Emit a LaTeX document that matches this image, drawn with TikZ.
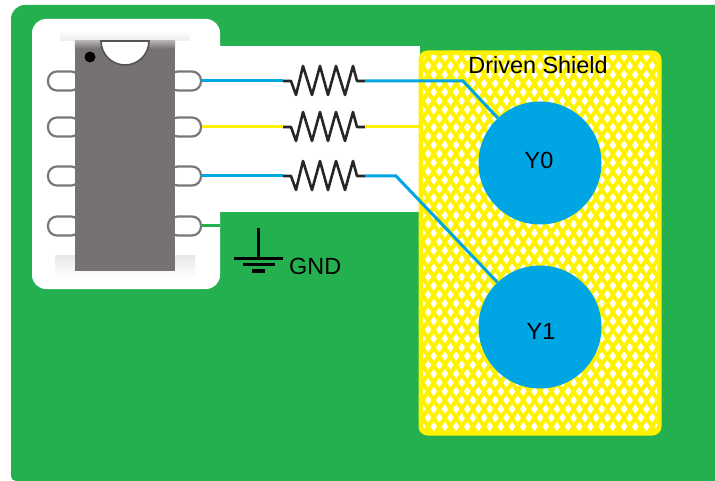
\documentclass[tikz,border=0pt]{standalone}
\usepackage{fontspec}
\setmainfont{Liberation Sans}
\definecolor{boardgreen}{HTML}{24B04F}
\definecolor{padblue}{HTML}{00A5E3}
\definecolor{shieldyellow}{HTML}{FFF200}
\definecolor{chipgrey}{HTML}{767172}
\definecolor{pingrey}{HTML}{7A7778}
\tikzset{
    pinbox/.style={draw=pingrey, line width=2.2, fill=white, rounded corners=9, minimum width=32, minimum height=19, inner sep=0},
    padnode/.style={circle, fill=padblue, minimum size=123, inner sep=0},
    shieldbox/.style={fill=shieldyellow, rounded corners=9, minimum width=243, minimum height=385, inner sep=0},
    wire/.style={line width=3, color=#1},
    zigzag/.style={line width=2.6, color=black!85, line join=round},
    gndline/.style={line width=3, color=black},
    lbl/.style={font=\fontsize{23.4}{23.4}\selectfont, inner sep=0}
}
\begin{document}
\begin{tikzpicture}[x=1pt, y=-1pt]

    \useasboundingbox (0, 0) rectangle (715, 481);
    \fill [white] (0, 0) rectangle (715, 481);
    \fill [boardgreen] (715, 5) -- (715, 481) [rounded corners=5] -- (11, 481) [rounded corners=14] -- (11, 5) [sharp corners] -- cycle;
    \fill [white, rounded corners=14] (32, 19) rectangle (220, 289);
    \fill [white] (215, 46) rectangle (420, 212);

    \shade [top color=white, bottom color=black!7] (60, 31) rectangle (190, 41);
    \shade [top color=black!9, bottom color=white] (55, 256) rectangle (195, 278);

    \foreach \n/\y in {1/81, 2/127, 3/176, 4/226} {
        \node [pinbox] (l\n) at (64, \y) {};
        \node [pinbox] (r\n) at (185, \y) {};
    }

    \node (b) [fill=chipgrey, minimum width=100, minimum height=230, inner sep=0] at (125, 156) {};
    \shade [top color=chipgrey!55!white, bottom color=chipgrey] (b.north west) rectangle ([yshift=-8]b.north east);
    \draw [pingrey!70!black, line width=1.6, fill=white] (101, 41) arc [start angle=180, end angle=360, x radius=24, y radius=-24] -- cycle;
    \fill [black] (90, 57) circle [radius=5.5];

    \node (s) [shieldbox] at (540, 243) {};
    \begin{scope}
        \clip [rounded corners=6] (423, 55) rectangle (657, 431);
        \foreach \k in {0,...,42} {
            \pgfmathsetmacro{\py}{57+8.8*\k}
            \pgfmathsetmacro{\px}{422.5+5.6*mod(\k,2)}
            \foreach \j in {0,...,21} {
                \fill [white] (\px+11.2*\j-3.2, \py) -- (\px+11.2*\j, \py-4.6) -- (\px+11.2*\j+3.2, \py) -- (\px+11.2*\j, \py+4.6) -- cycle;
            }
        }
    \end{scope}

    \node (p) [padnode] at (540, 163) {};
    \node (q) [padnode] at (540, 327) {};
    \node (m) [lbl] at (539, 160) {Y0};
    \node (o) [lbl] at (541, 331) {Y1};
    \node (t) [lbl] at (538, 65) {Driven Shield};
    \node (g) [lbl, anchor=base west] at (289, 275) {GND};

    \foreach \n/\y in {1/81, 2/127, 3/176} {
        \coordinate (a\n) at (283, \y);
        \coordinate (c\n) at (365, \y);
        \draw [zigzag] (a\n) -- ++(8, 0) -- ++(5, 14) -- ++(7, -29) -- ++(9, 29) -- ++(8, -29) -- ++(8, 29) -- ++(8, -29) -- ++(9, 29) -- ++(8, -29) -- ++(4, 15) -- (c\n);
    }

    \coordinate (d) at (463, 81);
    \coordinate (e) at (396, 176);
    \coordinate (f) at (420, 127);
    \coordinate (h) at (220, 226);

    \draw [wire=padblue] (r1.east) -- (a1);
    \draw [wire=padblue] (c1) -- (d) -- (p);
    \draw [wire=shieldyellow] (r2.east) -- (a2);
    \draw [wire=shieldyellow] (c2) -- (f);
    \draw [wire=padblue] (r3.east) -- (a3);
    \draw [wire=padblue] (c3) -- (e) -- (q);
    \draw [wire=boardgreen] (r4.east) -- (h);

    \coordinate (u) at (258, 228);
    \coordinate (v) at (258, 259);
    \coordinate (w1) at (234, 259);
    \coordinate (w2) at (283, 259);
    \coordinate (x1) at (243, 265);
    \coordinate (x2) at (275, 265);
    \coordinate (z1) at (252, 271);
    \coordinate (z2) at (265, 271);
    \draw [gndline] (u) -- (v);
    \draw [gndline] (w1) -- (w2);
    \draw [gndline] (x1) -- (x2);
    \draw [gndline] (z1) -- (z2);

\end{tikzpicture}
\end{document}
